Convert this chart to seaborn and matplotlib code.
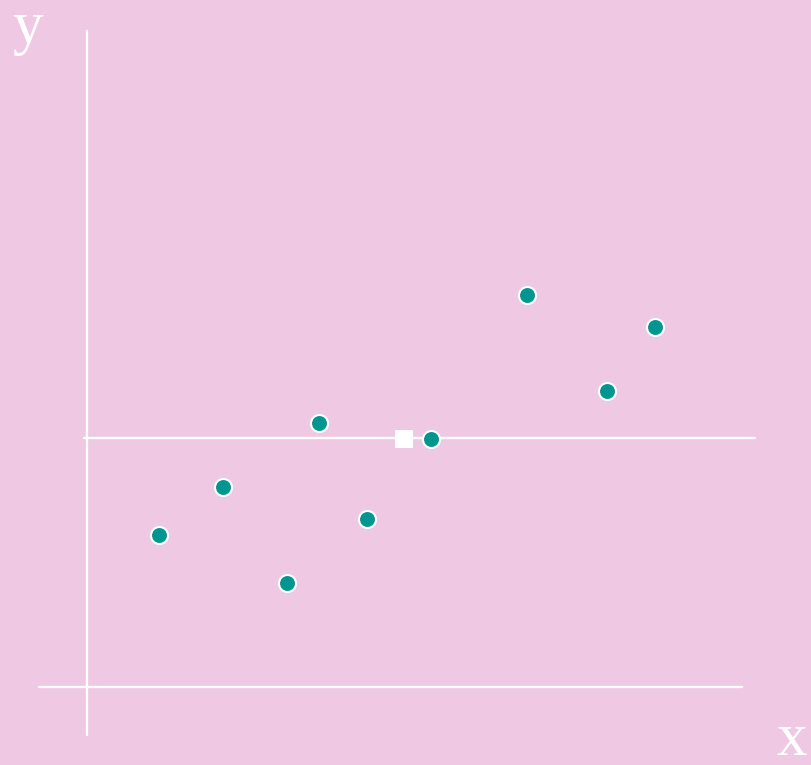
import matplotlib
matplotlib.use("Agg")
import matplotlib.pyplot as plt
import seaborn as sns
import pandas as pd

# data
x_vals = [5, 9, 13, 15, 18, 22, 28, 33, 36]
y_vals = [10, 13, 7, 17, 11, 16, 25, 19, 23]
mean_x = [20.3]
mean_y = [16.0]

BG = "#EFC8E4"
TEAL = "#009690"

sns.set_theme(style="white")
plt.rcParams["font.family"] = ["Liberation Serif", "DejaVu Serif"]

fig = plt.figure(figsize=(8.12, 7.65), dpi=100, facecolor=BG)
ax = fig.add_axes([0, 0, 1, 1])
ax.set_facecolor(BG)
ax.set_xlim(-4.9375, 45.8125)
ax.set_ylim(-4.375, 43.4375)
ax.axis("off")

# axis lines
ax.plot([0.5, 0.5], [-2.5, 41.5], color="white", lw=1.7, zorder=1)
ax.plot([-2.5, 41.44], [0.5, 0.5], color="white", lw=1.7, zorder=1)
# mean line
ax.plot([0.31, 42.25], [mean_y[0] + 0.06, mean_y[0] + 0.06], color="white", lw=1.7, zorder=1)

df = pd.DataFrame({"x": x_vals, "y": y_vals})
sns.scatterplot(data=df, x="x", y="y", ax=ax, color=TEAL, s=150,
                edgecolor="white", linewidth=1.5, zorder=3)
sns.scatterplot(x=mean_x, y=mean_y, ax=ax, color="white", marker="s", s=160,
                edgecolor="white", linewidth=0, zorder=4)

ax.text(12 / 812, 1 - 1 / 765, "y", transform=ax.transAxes, color="white",
        fontsize=44, ha="left", va="top")
ax.text(807 / 812, 10 / 765, "x", transform=ax.transAxes, color="white",
        fontsize=44, ha="right", va="baseline")

fig.savefig("out.png", dpi=100, facecolor=BG)
